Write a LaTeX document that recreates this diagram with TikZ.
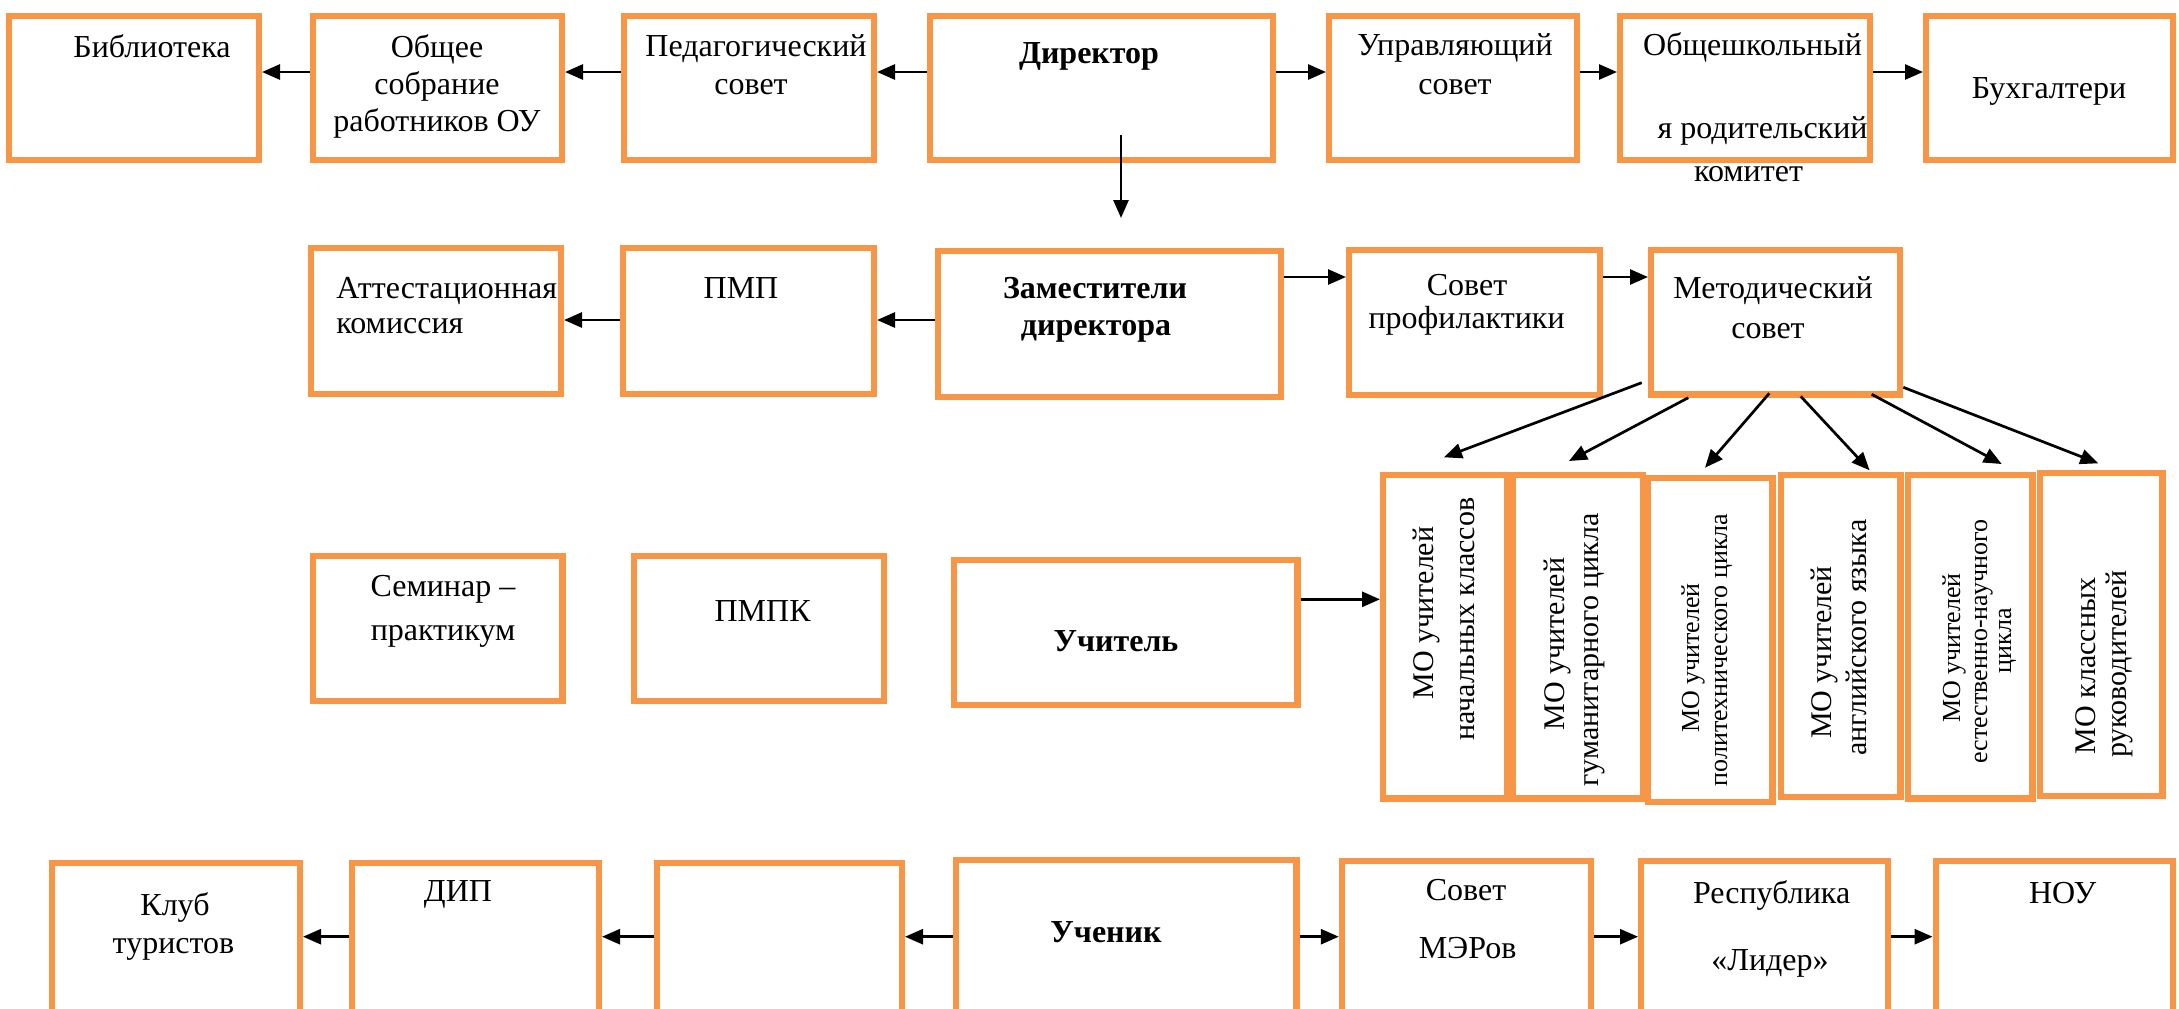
\documentclass[tikz,border=0pt]{standalone}
\usepackage{fontspec}
\setmainfont{Liberation Serif}
\usetikzlibrary{arrows.meta}
\definecolor{acc}{HTML}{F79646}
\newcommand{\orbox}[5]{%
  \pgfmathsetmacro{\obw}{(#4-#2)*0.5-3.2}%
  \pgfmathsetmacro{\obh}{(#5-#3)*0.5-3.2}%
  \node[obox, minimum width=\obw pt, minimum height=\obh pt] (#1) at ({(#2+#4)/2},{(#3+#5)/2}) {};}
\newcommand{\tline}[5][]{\node[txt,#1] (#2) at (#3,#4) {#5};}
\begin{document}
\begin{tikzpicture}[x=0.5pt,y=-0.5pt,
  obox/.style={draw=acc, line width=3.2pt, inner sep=0pt},
  txt/.style={inner sep=0pt, anchor=base, font=\fontsize{16}{19}\selectfont},
  bold/.style={font=\fontsize{16}{19}\selectfont\bfseries},
  mo/.style={rotate=90, font=\fontsize{15}{18}\selectfont},
  mos/.style={rotate=90, font=\fontsize{13}{16}\selectfont},
  arr/.style={line width=1.35pt, -{Triangle[length=9pt,width=7.5pt]}}]
\useasboundingbox (0,0) rectangle (2179,1008);
\clip (0,0) rectangle (2179,1008);
% row 1
\orbox{bib}{6}{13}{262}{163}
\orbox{obs}{310}{13}{565}{163}
\orbox{ped}{621}{13}{877}{163}
\orbox{dir}{927}{13}{1276}{163}
\orbox{upr}{1326}{13}{1580}{163}
\orbox{osh}{1617}{13}{1873}{163}
\orbox{buh}{1923}{13}{2176}{163}
% row 2
\orbox{att}{308}{245}{564}{397}
\orbox{pmp}{620}{245}{877}{397}
\orbox{zam}{935}{248}{1284}{400}
\orbox{sov}{1346}{247}{1603}{398}
\orbox{met}{1648}{247}{1903}{397.5}
% row 3
\orbox{sem}{309.5}{552.7}{565.5}{704.3}
\orbox{pmpk}{631}{552.7}{887}{704.3}
\orbox{uch}{951}{556.7}{1300.7}{708}
% MO boxes
\orbox{mo1}{1380}{471.7}{1510}{801.7}
\orbox{mo2}{1510}{472}{1646}{801.7}
\orbox{mo3}{1644.5}{475}{1775.6}{805}
\orbox{mo4}{1778}{472}{1903.5}{800}
\orbox{mo5}{1905}{472}{2035.7}{801.7}
\orbox{mo6}{2037}{470}{2165.8}{799}
% bottom row
\orbox{klub}{49}{860}{303}{1040}
\orbox{dip}{348.6}{860}{602}{1040}
\orbox{emp}{654}{860}{905}{1040}
\orbox{uchn}{952.6}{857}{1299.6}{1040}
\orbox{mer}{1338.8}{858}{1594}{1040}
\orbox{resp}{1638}{858}{1891.4}{1040}
\orbox{nou}{1932.6}{858}{2176}{1040}
% texts row 1
\tline{tbib}{152}{57}{Библиотека}
\tline{tobs1}{437}{57}{Общее}
\tline{tobs2}{437}{94}{собрание}
\tline{tobs3}{437}{131.7}{работников ОУ}
\tline{tped1}{756}{56}{Педагогический}
\tline{tped2}{751}{94}{совет}
\tline[bold]{tdir}{1089}{63.3}{Директор}
\tline{tupr1}{1455}{55}{Управляющий}
\tline{tupr2}{1455}{94}{совет}
\tline{tosh1}{1752.5}{55}{Общешкольный}
\tline{tosh2}{1762.5}{138.3}{я родительский}
\tline{tosh3}{1748.5}{181.7}{комитет}
\tline{tbuh}{2049}{98.3}{Бухгалтери}
% texts row 2
\tline[anchor=base west]{tatt1}{336}{298.3}{Аттестационная}
\tline[anchor=base west]{tatt2}{336}{333.3}{комиссия}
\tline{tpmp}{741}{298.3}{ПМП}
\tline[bold]{tzam1}{1095}{298.3}{Заместители}
\tline[bold]{tzam2}{1096}{335}{директора}
\tline{tsov1}{1467}{295}{Совет}
\tline{tsov2}{1466.6}{328.3}{профилактики}
\tline{tmet1}{1773}{298.3}{Методический}
\tline{tmet2}{1768}{338.3}{совет}
% texts row 3
\tline{tsem1}{443}{596.7}{Семинар –}
\tline{tsem2}{443}{640}{практикум}
\tline{tpmpk}{762.6}{621.7}{ПМПК}
\tline[bold]{tuch}{1116}{651.7}{Учитель}
% MO texts
\tline[mo]{tmo1a}{1433}{613}{МО учителей}
\tline[mo]{tmo1b}{1474}{619}{начальных классов}
\tline[mo]{tmo2a}{1564}{644}{МО учителей}
\tline[mo]{tmo2b}{1598.5}{650}{гуманитарного цикла}
\tline[mos]{tmo3a}{1699}{658}{МО учителей}
\tline[mos]{tmo3b}{1727}{650}{политехнического цикла}
\tline[mo]{tmo4a}{1831}{652.5}{МО учителей}
\tline[mo]{tmo4b}{1866}{637.5}{английского языка}
\tline[mos]{tmo5a}{1960}{648}{МО учителей}
\tline[mos]{tmo5b}{1987}{641.7}{естественно-научного}
\tline[mos]{tmo5c}{2011}{640.7}{цикла}
\tline[mo]{tmo6a}{2095}{666}{МО классных}
\tline[mo]{tmo6b}{2126}{664}{руководителей}
% texts bottom
\tline{tklub1}{175}{915}{Клуб}
\tline{tklub2}{173.5}{953.3}{туристов}
\tline{tdip}{458}{901}{ДИП}
\tline[bold]{tuchn}{1106}{942}{Ученик}
\tline{tmer1}{1466}{900}{Совет}
\tline{tmer2}{1467.6}{958.3}{МЭРов}
\tline{tresp1}{1771.6}{903.3}{Республика}
\tline{tresp2}{1770}{970}{«Лидер»}
\tline{tnou}{2062.6}{903.3}{НОУ}
% connectors
\coordinate (ya) at (0,72);
\coordinate (yb) at (0,320);
\coordinate (yc) at (0,277);
\coordinate (yd) at (0,599.3);
\coordinate (ye) at (0,936.7);
\draw[arr] (obs.west |- ya) -- (bib.east |- ya);
\draw[arr] (ped.west |- ya) -- (obs.east |- ya);
\draw[arr] (dir.west |- ya) -- (ped.east |- ya);
\draw[arr] (dir.east |- ya) -- (upr.west |- ya);
\draw[arr] (upr.east |- ya) -- (osh.west |- ya);
\draw[arr] (osh.east |- ya) -- (buh.west |- ya);
\coordinate (dA) at (1121,135);
\coordinate (dB) at (1121,218);
\draw[arr] (dA) -- (dB);
\draw[arr] (zam.west |- yb) -- (pmp.east |- yb);
\draw[arr] (pmp.west |- yb) -- (att.east |- yb);
\draw[arr] (zam.east |- yc) -- (sov.west |- yc);
\draw[arr] (sov.east |- yc) -- (met.west |- yc);
\draw[arr] (uch.east |- yd) -- (mo1.west |- yd);
\coordinate (m1s) at (1641.7,382.7); \coordinate (m1e) at (1444,457.3);
\coordinate (m2s) at (1688.3,397.7); \coordinate (m2e) at (1569,461);
\coordinate (m3s) at (1769.3,393.3); \coordinate (m3e) at (1705,467.7);
\coordinate (m4s) at (1800.7,396.3); \coordinate (m4e) at (1869.6,470.3);
\coordinate (m5s) at (1871.7,394.3); \coordinate (m5e) at (2001.7,464);
\coordinate (m6s) at (1903.3,387.3); \coordinate (m6e) at (2098.3,463.3);
\foreach \i in {1,...,6} { \draw[arr] (m\i s) -- (m\i e); }
\draw[arr] (dip.west |- ye) -- (klub.east |- ye);
\draw[arr] (emp.west |- ye) -- (dip.east |- ye);
\draw[arr] (uchn.west |- ye) -- (emp.east |- ye);
\draw[arr] (uchn.east |- ye) -- (mer.west |- ye);
\draw[arr] (mer.east |- ye) -- (resp.west |- ye);
\draw[arr] (resp.east |- ye) -- (nou.west |- ye);
\end{tikzpicture}
\end{document}
